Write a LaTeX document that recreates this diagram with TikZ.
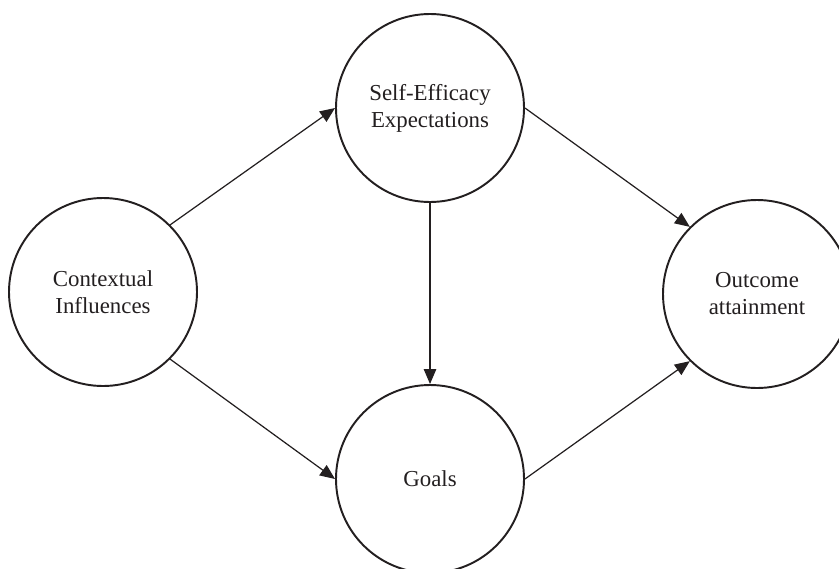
\documentclass[tikz,border=0pt]{standalone}
\usepackage{fontspec}
\setmainfont{Liberation Serif}
\usepackage{tikz}
\usepackage{xcolor}
\usetikzlibrary{arrows.meta,positioning}
\definecolor{ink}{HTML}{231F20}
\definecolor{paper}{HTML}{FFFFFF}
\tikzset{
  construct/.style={circle, draw=ink, fill=paper, line width=1.1pt, minimum size=3.76cm,
                    inner sep=0pt, align=center, text=ink,
                    font=\fontsize{13}{15.4}\selectfont},
  arrow/.style={-{Triangle[length=3mm,width=2.5mm]}, line width=0.7pt, draw=ink}
}

\begin{document}
\begin{tikzpicture}[x=1cm,y=1cm]
        \useasboundingbox (0,0) rectangle (16.78,11.36);
        % the four constructs
        \node[construct] (ctx) at (2.06,5.52) {Contextual\\Influences};
        \node[construct] (selfeff) at (8.6,9.2) {Self-Efficacy\\Expectations};
        \node[construct] (goals) at (8.6,1.78) {Goals};
        \node[construct] (outcome) at (15.14,5.48) {Outcome\\attainment};
        % paths between them
        \draw[arrow] (ctx.north east) -- (selfeff.west);
        \draw[arrow] (ctx.south east) -- (goals.west);
        \draw[arrow] (selfeff.south) -- (goals.north);
        \draw[arrow] (selfeff.east) -- (outcome.north west);
        \draw[arrow] (goals.east) -- (outcome.south west);
      \end{tikzpicture}
\end{document}
